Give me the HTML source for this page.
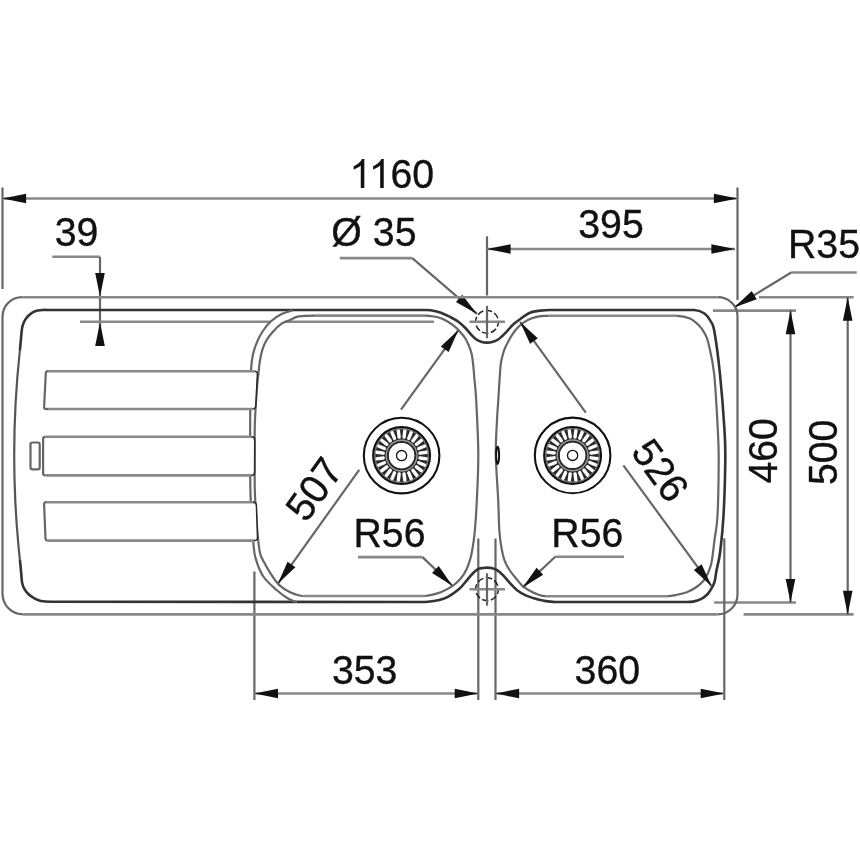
<!DOCTYPE html>
<html><head><meta charset="utf-8"><style>
html,body{margin:0;padding:0;background:#fff;}
svg{display:block;}
text{font-family:"Liberation Sans",sans-serif;fill:#111;stroke:#111;stroke-width:0.35px;}
.h{fill:none;stroke:#888;stroke-width:2.6px;}
.v{fill:none;stroke:#666;stroke-width:2.2px;}
.d{fill:none;stroke:#333;stroke-width:2.6px;}
.m{fill:none;stroke:#555;stroke-width:2.2px;}
</style></head><body>
<svg width="860" height="860" viewBox="0 0 860 860">
<defs><filter id="soft" filterUnits="userSpaceOnUse" x="0" y="0" width="860" height="860"><feOffset dx="0" dy="0"/></filter></defs>
<rect width="860" height="860" fill="#fff"/>
<g filter="url(#soft)">
<line x1="2.50" y1="187.50" x2="2.50" y2="289.00" class="v"/>
<line x1="737.50" y1="187.50" x2="737.50" y2="300.00" class="v"/>
<line x1="2.50" y1="198.50" x2="737.50" y2="198.50" class="h"/>
<polygon points="2.50,198.50 26.10,193.70 26.10,203.30" fill="#111"/>
<polygon points="737.50,198.50 713.90,203.30 713.90,193.70" fill="#111"/>
<path transform="translate(349.30,188) scale(0.01968,-0.01968)" d="M763 0H583V1147Q518 1085 412.5 1023T223 930V1104Q374 1175 487 1276T647 1472H763V0Z" fill="#111"/>
<path transform="translate(368.72,188) scale(0.01968,-0.01968)" d="M763 0H583V1147Q518 1085 412.5 1023T223 930V1104Q374 1175 487 1276T647 1472H763V0Z" fill="#111"/>
<text transform="translate(390.53,188.00) scale(0.975,1)" x="0" y="0" text-anchor="start" font-size="40.3">60</text>
<line x1="487.00" y1="236.30" x2="487.00" y2="295.50" class="v"/>
<line x1="487.00" y1="249.00" x2="735.00" y2="249.00" class="h"/>
<polygon points="487.00,249.00 510.60,244.20 510.60,253.80" fill="#111"/>
<polygon points="735.00,249.00 711.40,253.80 711.40,244.20" fill="#111"/>
<text transform="translate(611.00,237.60) scale(0.975,1)" x="0" y="0" text-anchor="middle" font-size="40.3">395</text>
<line x1="52.30" y1="256.80" x2="100.00" y2="256.80" class="h"/>
<line x1="100.00" y1="256.80" x2="100.00" y2="345.60" class="v"/>
<polygon points="100.00,296.50 95.20,272.90 104.80,272.90" fill="#111"/>
<polygon points="100.00,322.30 104.80,345.90 95.20,345.90" fill="#111"/>
<text transform="translate(76.60,245.60) scale(0.975,1)" x="0" y="0" text-anchor="middle" font-size="40.3">39</text>
<line x1="80.00" y1="321.70" x2="271.00" y2="321.70" class="h"/>
<line x1="285.00" y1="321.70" x2="434.00" y2="321.70" class="h"/>
<line x1="339.80" y1="258.10" x2="412.30" y2="258.10" class="h"/>
<line x1="412.30" y1="258.10" x2="477.00" y2="313.90" class="v"/>
<polygon points="477.00,313.90 455.99,302.12 462.26,294.85" fill="#111"/>
<text transform="translate(373.90,246.30) scale(0.975,1)" x="0" y="0" text-anchor="middle" font-size="40.3">Ø 35</text>
<line x1="856.70" y1="272.50" x2="791.20" y2="272.50" class="h"/>
<line x1="791.20" y1="272.50" x2="734.10" y2="307.40" class="v"/>
<polygon points="734.10,307.40 751.73,291.00 756.74,299.19" fill="#111"/>
<text transform="translate(788.00,258.40) scale(0.975,1)" x="0" y="0" text-anchor="start" font-size="40.3">R35</text>
<line x1="712.90" y1="310.60" x2="796.00" y2="310.60" class="h"/>
<line x1="714.20" y1="602.50" x2="796.00" y2="602.50" class="h"/>
<line x1="790.50" y1="310.60" x2="790.50" y2="602.50" class="v"/>
<polygon points="790.50,310.60 795.30,334.20 785.70,334.20" fill="#111"/>
<polygon points="790.50,602.50 785.70,578.90 795.30,578.90" fill="#111"/>
<text transform="translate(762.50,450.85) rotate(-90.00) scale(0.975,1)" x="0" y="14" text-anchor="middle" font-size="40.3">460</text>
<line x1="759.00" y1="297.20" x2="853.60" y2="297.20" class="h"/>
<line x1="743.60" y1="614.40" x2="853.60" y2="614.40" class="h"/>
<line x1="847.70" y1="297.20" x2="847.70" y2="614.40" class="v"/>
<polygon points="847.70,297.20 852.50,320.80 842.90,320.80" fill="#111"/>
<polygon points="847.70,614.40 842.90,590.80 852.50,590.80" fill="#111"/>
<text transform="translate(822.60,452.35) rotate(-90.00) scale(0.975,1)" x="0" y="14" text-anchor="middle" font-size="40.3">500</text>
<line x1="254.40" y1="571.50" x2="254.40" y2="700.00" class="v"/>
<line x1="478.30" y1="538.50" x2="478.30" y2="700.00" class="v"/>
<line x1="254.40" y1="693.50" x2="478.30" y2="693.50" class="h"/>
<polygon points="254.40,693.50 278.00,688.70 278.00,698.30" fill="#111"/>
<polygon points="478.30,693.50 454.70,698.30 454.70,688.70" fill="#111"/>
<text transform="translate(364.70,683.70) scale(0.975,1)" x="0" y="0" text-anchor="middle" font-size="40.3">353</text>
<line x1="495.50" y1="538.50" x2="495.50" y2="700.00" class="v"/>
<line x1="724.30" y1="538.30" x2="724.30" y2="700.00" class="v"/>
<line x1="495.50" y1="693.50" x2="724.30" y2="693.50" class="h"/>
<polygon points="495.50,693.50 519.10,688.70 519.10,698.30" fill="#111"/>
<polygon points="724.30,693.50 700.70,698.30 700.70,688.70" fill="#111"/>
<text transform="translate(607.30,683.70) scale(0.975,1)" x="0" y="0" text-anchor="middle" font-size="40.3">360</text>
<line x1="22.50" y1="297.20" x2="717.50" y2="297.20" class="h"/>
<line x1="23.50" y1="614.40" x2="717.50" y2="614.40" class="h"/>
<path d="M 22.5 297.2 C 11 297.2 2.5 305.7 2.5 317.2 L 2.5 593.4 C 2.5 605 11.5 614.4 23.5 614.4" class="v"/>
<path d="M 717.5 297.2 C 728.5 297.2 737.5 305.2 737.5 316.2 L 737.5 594.4 C 737.5 605.4 728.5 614.4 717.5 614.4" class="v"/>
<path d="M 19.9 560 C 12.3 490 12.3 420 19.9 350" class="m"/>
<path d="M 50 310 L 422 310 C 424.83 310.00 427.35 309.75 430.50 310.20 C 433.65 310.65 437.65 311.58 440.90 312.70 C 444.15 313.82 447.08 315.40 450.00 316.90 C 452.92 318.40 455.83 319.85 458.40 321.70 C 460.97 323.55 463.32 325.90 465.40 328.00 C 467.48 330.10 469.13 332.43 470.90 334.30 C 472.67 336.17 474.32 337.97 476.00 339.20 C 477.68 340.43 479.17 341.13 481.00 341.70 C 482.83 342.27 485.00 342.60 487.00 342.60 C 489.00 342.60 491.08 342.27 493.00 341.70 C 494.92 341.13 496.42 340.67 498.50 339.20 C 500.58 337.73 503.18 335.23 505.50 332.90 C 507.82 330.57 510.08 327.40 512.40 325.20 C 514.72 323.00 516.48 321.78 519.40 319.70 C 522.32 317.62 526.40 314.22 529.90 312.70 C 533.40 311.18 537.05 311.05 540.40 310.60 C 543.75 310.15 546.79 310.00 550.00 310.00 L 694 310 C 697.69 310.00 701.75 311.67 704.50 313.50 C 707.25 315.33 708.85 317.98 710.50 321.00 C 712.15 324.02 712.82 322.70 714.40 331.60 C 715.98 340.50 718.32 358.00 720.00 374.40 C 721.68 390.80 723.62 415.73 724.50 430.00 C 725.38 444.27 725.47 445.70 725.30 460.00 C 725.13 474.30 724.38 500.30 723.50 515.80 C 722.62 531.30 721.18 543.82 720.00 553.00 C 718.82 562.18 717.28 566.17 716.40 570.90 C 715.52 575.63 715.45 578.60 714.70 581.40 C 713.95 584.20 713.07 585.60 711.90 587.70 C 710.73 589.80 709.45 592.15 707.70 594.00 C 705.95 595.85 703.85 597.53 701.40 598.80 C 698.95 600.07 695.73 601.07 693.00 601.60 C 690.27 602.13 687.67 602.00 685.00 602.00 L 555 602 C 551.31 602.00 547.12 601.30 544.00 600.80 C 540.88 600.30 539.33 599.90 536.30 599.00 C 533.27 598.10 529.00 596.87 525.80 595.40 C 522.60 593.93 519.85 592.38 517.10 590.20 C 514.35 588.02 511.62 584.78 509.30 582.30 C 506.98 579.82 505.23 577.33 503.20 575.30 C 501.17 573.27 499.05 571.30 497.10 570.10 C 495.15 568.90 493.13 568.52 491.50 568.10 C 489.87 567.68 488.72 567.62 487.30 567.60 C 485.88 567.58 484.55 567.73 483.00 568.00 C 481.45 568.27 479.87 568.12 478.00 569.20 C 476.13 570.28 473.70 572.60 471.80 574.50 C 469.90 576.40 468.77 578.13 466.60 580.60 C 464.43 583.07 462.00 586.55 458.80 589.30 C 455.60 592.05 450.87 595.27 447.40 597.10 C 443.93 598.93 441.23 599.53 438.00 600.30 C 434.77 601.07 431.00 601.42 428.00 601.70 C 425.00 601.98 422.67 602.00 420.00 602.00 L 50.7 601.8 C 47.39 601.80 43.52 601.57 40.80 601.00 C 38.08 600.43 36.43 599.52 34.40 598.40 C 32.37 597.28 30.25 595.85 28.60 594.30 C 26.95 592.75 25.57 590.93 24.50 589.10 C 23.43 587.27 22.73 585.73 22.20 583.30 C 21.67 580.87 21.68 578.38 21.30 574.50 C 20.92 570.62 20.51 564.82 19.90 560.00 M 19.9 350 C 20.29 346.91 20.52 343.70 20.80 340.70 C 21.08 337.70 21.32 334.42 21.60 332.00 C 21.88 329.58 21.92 328.23 22.50 326.20 C 23.08 324.17 23.98 321.65 25.10 319.80 C 26.22 317.95 27.55 316.52 29.20 315.10 C 30.85 313.68 32.77 312.15 35.00 311.30 C 37.23 310.45 40.10 310.22 42.60 310.00 C 45.10 309.78 47.53 310.00 50.00 310.00" class="d"/>
<path d="M 293 310.3 C 289.20 311.53 285.27 312.17 281.60 314.00 C 277.93 315.83 274.12 318.47 271.00 321.30 C 267.88 324.13 265.20 327.62 262.90 331.00 C 260.60 334.38 258.83 337.80 257.20 341.60 C 255.57 345.40 254.12 349.32 253.10 353.80 C 252.08 358.28 251.57 360.80 251.10 368.50 C 250.63 376.20 250.47 388.08 250.30 400.00 C 250.13 411.92 250.08 425.00 250.10 440.00 C 250.12 455.00 250.12 476.67 250.40 490.00 C 250.68 503.33 251.32 511.33 251.80 520.00 C 252.28 528.67 252.68 535.68 253.30 542.00 C 253.92 548.32 253.83 552.15 255.50 557.90 C 257.17 563.65 259.68 571.07 263.30 576.50 C 266.92 581.93 273.08 586.83 277.20 590.50 C 281.32 594.17 284.70 596.58 288.00 598.50 C 291.30 600.42 293.82 601.52 297.00 602.00" class="v"/>
<line x1="315.00" y1="315.60" x2="425.00" y2="315.60" class="h"/>
<line x1="425.00" y1="596.00" x2="303.30" y2="596.00" class="h"/>
<path d="M 425 315.6 C 428.01 315.60 431.35 316.05 434.00 316.50 C 436.65 316.95 438.58 317.43 440.90 318.30 C 443.22 319.17 445.57 320.32 447.90 321.70 C 450.23 323.08 452.80 324.85 454.90 326.60 C 457.00 328.35 458.75 330.22 460.50 332.20 C 462.25 334.18 464.02 336.28 465.40 338.50 C 466.78 340.72 467.77 342.95 468.80 345.50 C 469.83 348.05 470.87 350.55 471.60 353.80 C 472.33 357.05 472.72 360.63 473.20 365.00 C 473.68 369.37 474.00 374.17 474.50 380.00 C 475.00 385.83 475.57 387.50 476.20 400.00 C 476.83 412.50 478.23 437.50 478.30 455.00 C 478.37 472.50 477.17 492.50 476.60 505.00 C 476.03 517.50 475.40 523.95 474.90 530.00 C 474.40 536.05 474.25 536.93 473.60 541.30 C 472.95 545.67 472.17 551.55 471.00 556.20 C 469.83 560.85 468.35 565.43 466.60 569.20 C 464.85 572.97 462.82 576.03 460.50 578.80 C 458.18 581.57 455.90 583.62 452.70 585.80 C 449.50 587.98 444.75 590.40 441.30 591.90 C 437.85 593.40 434.72 594.12 432.00 594.80 C 429.28 595.48 427.37 596.00 425.00 596.00 M 303.3 596 C 298.76 596.00 294.25 594.15 290.20 592.30 C 286.15 590.45 282.25 588.00 279.00 584.90 C 275.75 581.80 273.17 577.42 270.70 573.70 C 268.23 569.98 265.98 566.05 264.20 562.60 C 262.42 559.15 261.08 557.60 260.00 553.00 C 258.92 548.40 258.33 541.33 257.70 535.00 C 257.07 528.67 256.68 522.50 256.20 515.00 C 255.72 507.50 255.05 500.00 254.80 490.00 C 254.55 480.00 254.70 465.83 254.70 455.00 C 254.70 444.17 254.62 433.33 254.80 425.00 C 254.98 416.67 255.40 411.67 255.80 405.00 C 256.20 398.33 256.77 390.13 257.20 385.00 C 257.63 379.87 257.98 378.03 258.40 374.20 C 258.82 370.37 259.08 365.93 259.70 362.00 C 260.32 358.07 261.02 354.13 262.10 350.60 C 263.18 347.07 264.43 343.92 266.20 340.80 C 267.97 337.68 270.13 334.75 272.70 331.90 C 275.27 329.05 278.62 325.73 281.60 323.70 C 284.58 321.67 287.75 320.92 290.60 319.70 C 293.45 318.48 294.63 317.08 298.70 316.40 C 302.77 315.72 309.56 315.60 315.00 315.60" class="v"/>
<line x1="548.00" y1="315.80" x2="677.00" y2="315.80" class="h"/>
<line x1="668.00" y1="596.20" x2="545.00" y2="596.20" class="h"/>
<path d="M 677 315.8 C 681.43 315.80 686.25 316.80 690.00 318.50 C 693.75 320.20 697.00 323.42 699.50 326.00 C 702.00 328.58 703.45 330.88 705.00 334.00 C 706.55 337.12 707.27 337.97 708.80 344.70 C 710.33 351.43 712.70 360.18 714.20 374.40 C 715.70 388.62 717.05 415.73 717.80 430.00 C 718.55 444.27 718.75 445.70 718.70 460.00 C 718.65 474.30 718.20 502.47 717.50 515.80 C 716.80 529.13 715.20 534.30 714.50 540.00 C 713.80 545.70 713.85 546.00 713.30 550.00 C 712.75 554.00 712.13 560.05 711.20 564.00 C 710.27 567.95 708.98 570.92 707.70 573.70 C 706.42 576.48 705.37 578.48 703.50 580.70 C 701.63 582.92 699.18 585.13 696.50 587.00 C 693.82 588.87 690.65 590.62 687.40 591.90 C 684.15 593.18 680.23 593.98 677.00 594.70 C 673.77 595.42 671.04 596.20 668.00 596.20 M 545 596.2 C 542.60 596.20 540.47 595.37 538.00 594.50 C 535.53 593.63 532.80 592.45 530.20 591.00 C 527.60 589.55 524.72 587.83 522.40 585.80 C 520.08 583.77 518.33 581.27 516.30 578.80 C 514.27 576.33 512.10 573.90 510.20 571.00 C 508.30 568.10 506.37 565.33 504.90 561.40 C 503.43 557.47 502.33 552.63 501.40 547.40 C 500.47 542.17 499.83 537.90 499.30 530.00 C 498.77 522.10 498.78 512.50 498.20 500.00 C 497.62 487.50 496.00 468.33 495.80 455.00 C 495.60 441.67 496.58 429.17 497.00 420.00 C 497.42 410.83 497.77 408.33 498.30 400.00 C 498.83 391.67 499.70 376.53 500.20 370.00 C 500.70 363.47 500.65 364.07 501.30 360.80 C 501.95 357.53 503.05 353.42 504.10 350.40 C 505.15 347.38 506.22 345.38 507.60 342.70 C 508.98 340.02 510.67 336.87 512.40 334.30 C 514.13 331.73 516.25 329.17 518.00 327.30 C 519.75 325.43 520.92 324.48 522.90 323.10 C 524.88 321.72 526.98 320.15 529.90 319.00 C 532.82 317.85 537.38 316.73 540.40 316.20 C 543.42 315.67 545.46 315.80 548.00 315.80" class="v"/>
<path d="M 48 371.2 L 254.5 371.2 Q 256.8 371.2 256.6 373.5 L 255.2 406.5 Q 255 409 252.5 409 L 46 409 Q 44 409 44.1 407 L 45.8 373.3 Q 46 371.2 48 371.2 Z" fill="#fff" stroke="none"/>
<line x1="48.00" y1="371.20" x2="254.50" y2="371.20" class="h"/>
<line x1="46.00" y1="409.00" x2="252.50" y2="409.00" class="h"/>
<path d="M 48 409 L 46 409 Q 44 409 44.1 407 L 45.8 373.3 Q 46 371.2 48 371.2" class="v"/>
<path d="M 45.5 436.8 L 251.8 436.8 Q 254 436.8 254 439 L 254 473 Q 254 475.4 251.8 475.4 L 45.3 475.4 Q 43.1 475.4 43.1 473 L 43.1 439 Q 43.1 436.8 45.5 436.8 Z" fill="#fff" stroke="none"/>
<line x1="45.50" y1="436.80" x2="251.80" y2="436.80" class="h"/>
<line x1="45.30" y1="475.40" x2="251.80" y2="475.40" class="h"/>
<path d="M 45.3 475.4 Q 43.1 475.4 43.1 473 L 43.1 439 Q 43.1 436.8 45.5 436.8" class="v"/>
<path d="M 46 502.2 L 254 502.2 Q 256 502.2 256.2 504.4 L 257.2 538.3 Q 257.2 540.6 255 540.6 L 47.8 540.6 Q 45.6 540.6 45.5 538.5 L 44.1 504.3 Q 44 502.2 46 502.2 Z" fill="#fff" stroke="none"/>
<line x1="46.00" y1="502.20" x2="254.00" y2="502.20" class="h"/>
<line x1="47.80" y1="540.60" x2="255.00" y2="540.60" class="h"/>
<path d="M 47.8 540.6 Q 45.6 540.6 45.5 538.5 L 44.1 504.3 Q 44 502.2 46 502.2" class="v"/>
<path d="M 254.5 371.2 Q 257.6 371.2 257.4 374.5 L 255.8 405.5 Q 255.5 409 252.5 409" fill="none" stroke="#2a2a2a" stroke-width="1.5"/>
<path d="M 251.5 436.8 Q 254.7 436.8 254.7 440 L 254.6 472 Q 254.6 475.4 251.5 475.4" fill="none" stroke="#2a2a2a" stroke-width="1.5"/>
<path d="M 253.2 502.2 Q 256.2 502.2 256.4 505.2 L 257.5 537.5 Q 257.6 540.6 254.5 540.6" fill="none" stroke="#2a2a2a" stroke-width="1.5"/>
<rect x="30.5" y="442.5" width="9.2" height="26.8" rx="1.8" class="v"/>
<circle cx="487" cy="321.8" r="11.4" fill="none" stroke="#222" stroke-width="1.5" stroke-dasharray="6.4 2.55" stroke-dashoffset="1.5"/>
<line x1="469.50" y1="321.80" x2="505.00" y2="321.80" class="h"/>
<line x1="487.00" y1="305.80" x2="487.00" y2="338.30" class="v"/>
<circle cx="487" cy="589.2" r="11.4" fill="none" stroke="#222" stroke-width="1.5" stroke-dasharray="6.4 2.55" stroke-dashoffset="1.5"/>
<line x1="469.50" y1="589.20" x2="505.00" y2="589.20" class="h"/>
<line x1="487.00" y1="573.20" x2="487.00" y2="605.70" class="v"/>
<circle cx="401.6" cy="455.6" r="37.8" fill="none" stroke="#111" stroke-width="2.1"/>
<circle cx="401.6" cy="455.6" r="20" fill="none" stroke="#2a2a2a" stroke-width="14.6"/>
<circle cx="401.6" cy="455.6" r="28.4" fill="none" stroke="#111" stroke-width="2.2"/>
<line x1="420.04" y1="458.03" x2="426.58" y2="458.89" stroke="#fff" stroke-width="3.4" stroke-linecap="round"/>
<line x1="418.78" y1="462.72" x2="424.88" y2="465.24" stroke="#fff" stroke-width="3.4" stroke-linecap="round"/>
<line x1="416.36" y1="466.92" x2="421.59" y2="470.94" stroke="#fff" stroke-width="3.4" stroke-linecap="round"/>
<line x1="412.92" y1="470.36" x2="416.94" y2="475.59" stroke="#fff" stroke-width="3.4" stroke-linecap="round"/>
<line x1="408.72" y1="472.78" x2="411.24" y2="478.88" stroke="#fff" stroke-width="3.4" stroke-linecap="round"/>
<line x1="404.03" y1="474.04" x2="404.89" y2="480.58" stroke="#fff" stroke-width="3.4" stroke-linecap="round"/>
<line x1="399.17" y1="474.04" x2="398.31" y2="480.58" stroke="#fff" stroke-width="3.4" stroke-linecap="round"/>
<line x1="394.48" y1="472.78" x2="391.96" y2="478.88" stroke="#fff" stroke-width="3.4" stroke-linecap="round"/>
<line x1="390.28" y1="470.36" x2="386.26" y2="475.59" stroke="#fff" stroke-width="3.4" stroke-linecap="round"/>
<line x1="386.84" y1="466.92" x2="381.61" y2="470.94" stroke="#fff" stroke-width="3.4" stroke-linecap="round"/>
<line x1="384.42" y1="462.72" x2="378.32" y2="465.24" stroke="#fff" stroke-width="3.4" stroke-linecap="round"/>
<line x1="383.16" y1="458.03" x2="376.62" y2="458.89" stroke="#fff" stroke-width="3.4" stroke-linecap="round"/>
<line x1="383.16" y1="453.17" x2="376.62" y2="452.31" stroke="#fff" stroke-width="3.4" stroke-linecap="round"/>
<line x1="384.42" y1="448.48" x2="378.32" y2="445.96" stroke="#fff" stroke-width="3.4" stroke-linecap="round"/>
<line x1="386.84" y1="444.28" x2="381.61" y2="440.26" stroke="#fff" stroke-width="3.4" stroke-linecap="round"/>
<line x1="390.28" y1="440.84" x2="386.26" y2="435.61" stroke="#fff" stroke-width="3.4" stroke-linecap="round"/>
<line x1="394.48" y1="438.42" x2="391.96" y2="432.32" stroke="#fff" stroke-width="3.4" stroke-linecap="round"/>
<line x1="399.17" y1="437.16" x2="398.31" y2="430.62" stroke="#fff" stroke-width="3.4" stroke-linecap="round"/>
<line x1="404.03" y1="437.16" x2="404.89" y2="430.62" stroke="#fff" stroke-width="3.4" stroke-linecap="round"/>
<line x1="408.72" y1="438.42" x2="411.24" y2="432.32" stroke="#fff" stroke-width="3.4" stroke-linecap="round"/>
<line x1="412.92" y1="440.84" x2="416.94" y2="435.61" stroke="#fff" stroke-width="3.4" stroke-linecap="round"/>
<line x1="416.36" y1="444.28" x2="421.59" y2="440.26" stroke="#fff" stroke-width="3.4" stroke-linecap="round"/>
<line x1="418.78" y1="448.48" x2="424.88" y2="445.96" stroke="#fff" stroke-width="3.4" stroke-linecap="round"/>
<line x1="420.04" y1="453.17" x2="426.58" y2="452.31" stroke="#fff" stroke-width="3.4" stroke-linecap="round"/>
<circle cx="401.6" cy="455.6" r="15.4" fill="none" stroke="#999" stroke-width="1.4"/>
<circle cx="401.6" cy="455.6" r="26.6" fill="none" stroke="#8a8a8a" stroke-width="0.9"/>
<circle cx="401.6" cy="455.6" r="12.6" fill="#fff"/>
<circle cx="401.6" cy="455.6" r="5.1" fill="none" stroke="#111" stroke-width="1.3"/>
<circle cx="572.6" cy="455.4" r="37.8" fill="none" stroke="#111" stroke-width="2.1"/>
<circle cx="572.6" cy="455.4" r="20" fill="none" stroke="#2a2a2a" stroke-width="14.6"/>
<circle cx="572.6" cy="455.4" r="28.4" fill="none" stroke="#111" stroke-width="2.2"/>
<line x1="591.04" y1="457.83" x2="597.58" y2="458.69" stroke="#fff" stroke-width="3.4" stroke-linecap="round"/>
<line x1="589.78" y1="462.52" x2="595.88" y2="465.04" stroke="#fff" stroke-width="3.4" stroke-linecap="round"/>
<line x1="587.36" y1="466.72" x2="592.59" y2="470.74" stroke="#fff" stroke-width="3.4" stroke-linecap="round"/>
<line x1="583.92" y1="470.16" x2="587.94" y2="475.39" stroke="#fff" stroke-width="3.4" stroke-linecap="round"/>
<line x1="579.72" y1="472.58" x2="582.24" y2="478.68" stroke="#fff" stroke-width="3.4" stroke-linecap="round"/>
<line x1="575.03" y1="473.84" x2="575.89" y2="480.38" stroke="#fff" stroke-width="3.4" stroke-linecap="round"/>
<line x1="570.17" y1="473.84" x2="569.31" y2="480.38" stroke="#fff" stroke-width="3.4" stroke-linecap="round"/>
<line x1="565.48" y1="472.58" x2="562.96" y2="478.68" stroke="#fff" stroke-width="3.4" stroke-linecap="round"/>
<line x1="561.28" y1="470.16" x2="557.26" y2="475.39" stroke="#fff" stroke-width="3.4" stroke-linecap="round"/>
<line x1="557.84" y1="466.72" x2="552.61" y2="470.74" stroke="#fff" stroke-width="3.4" stroke-linecap="round"/>
<line x1="555.42" y1="462.52" x2="549.32" y2="465.04" stroke="#fff" stroke-width="3.4" stroke-linecap="round"/>
<line x1="554.16" y1="457.83" x2="547.62" y2="458.69" stroke="#fff" stroke-width="3.4" stroke-linecap="round"/>
<line x1="554.16" y1="452.97" x2="547.62" y2="452.11" stroke="#fff" stroke-width="3.4" stroke-linecap="round"/>
<line x1="555.42" y1="448.28" x2="549.32" y2="445.76" stroke="#fff" stroke-width="3.4" stroke-linecap="round"/>
<line x1="557.84" y1="444.08" x2="552.61" y2="440.06" stroke="#fff" stroke-width="3.4" stroke-linecap="round"/>
<line x1="561.28" y1="440.64" x2="557.26" y2="435.41" stroke="#fff" stroke-width="3.4" stroke-linecap="round"/>
<line x1="565.48" y1="438.22" x2="562.96" y2="432.12" stroke="#fff" stroke-width="3.4" stroke-linecap="round"/>
<line x1="570.17" y1="436.96" x2="569.31" y2="430.42" stroke="#fff" stroke-width="3.4" stroke-linecap="round"/>
<line x1="575.03" y1="436.96" x2="575.89" y2="430.42" stroke="#fff" stroke-width="3.4" stroke-linecap="round"/>
<line x1="579.72" y1="438.22" x2="582.24" y2="432.12" stroke="#fff" stroke-width="3.4" stroke-linecap="round"/>
<line x1="583.92" y1="440.64" x2="587.94" y2="435.41" stroke="#fff" stroke-width="3.4" stroke-linecap="round"/>
<line x1="587.36" y1="444.08" x2="592.59" y2="440.06" stroke="#fff" stroke-width="3.4" stroke-linecap="round"/>
<line x1="589.78" y1="448.28" x2="595.88" y2="445.76" stroke="#fff" stroke-width="3.4" stroke-linecap="round"/>
<line x1="591.04" y1="452.97" x2="597.58" y2="452.11" stroke="#fff" stroke-width="3.4" stroke-linecap="round"/>
<circle cx="572.6" cy="455.4" r="15.4" fill="none" stroke="#999" stroke-width="1.4"/>
<circle cx="572.6" cy="455.4" r="26.6" fill="none" stroke="#8a8a8a" stroke-width="0.9"/>
<circle cx="572.6" cy="455.4" r="12.6" fill="#fff"/>
<circle cx="572.6" cy="455.4" r="5.1" fill="none" stroke="#111" stroke-width="1.3"/>
<ellipse cx="497.6" cy="455.3" rx="1.5" ry="8.6" fill="none" stroke="#111" stroke-width="2"/>
<line x1="277.80" y1="583.80" x2="359.20" y2="469.90" class="v"/>
<line x1="401.00" y1="409.70" x2="458.40" y2="330.10" class="v"/>
<polygon points="277.80,583.80 287.58,561.79 295.40,567.36" fill="#111"/>
<polygon points="458.40,330.10 448.62,352.11 440.80,346.54" fill="#111"/>
<text transform="translate(313.90,489.00) rotate(-54.55) scale(0.975,1)" x="0" y="14" text-anchor="middle" font-size="40.3">507</text>
<line x1="520.10" y1="321.90" x2="585.80" y2="412.60" class="v"/>
<line x1="623.40" y1="465.30" x2="711.60" y2="586.20" class="v"/>
<polygon points="520.10,321.90 537.83,338.19 530.06,343.83" fill="#111"/>
<polygon points="711.60,586.20 693.87,569.91 701.64,564.27" fill="#111"/>
<text transform="translate(660.50,470.30) rotate(54.07) scale(0.975,1)" x="0" y="14" text-anchor="middle" font-size="40.3">526</text>
<line x1="358.10" y1="557.10" x2="422.50" y2="557.10" class="h"/>
<line x1="422.50" y1="557.10" x2="452.40" y2="585.80" class="v"/>
<polygon points="452.40,585.80 432.05,572.92 438.70,565.99" fill="#111"/>
<text transform="translate(389.50,546.70) scale(0.975,1)" x="0" y="0" text-anchor="middle" font-size="40.3">R56</text>
<line x1="624.00" y1="556.80" x2="555.20" y2="556.80" class="h"/>
<line x1="555.20" y1="556.80" x2="522.70" y2="587.40" class="v"/>
<polygon points="522.70,587.40 536.59,567.73 543.17,574.72" fill="#111"/>
<text transform="translate(587.30,546.70) scale(0.975,1)" x="0" y="0" text-anchor="middle" font-size="40.3">R56</text>
</g>
</svg>
</body></html>
